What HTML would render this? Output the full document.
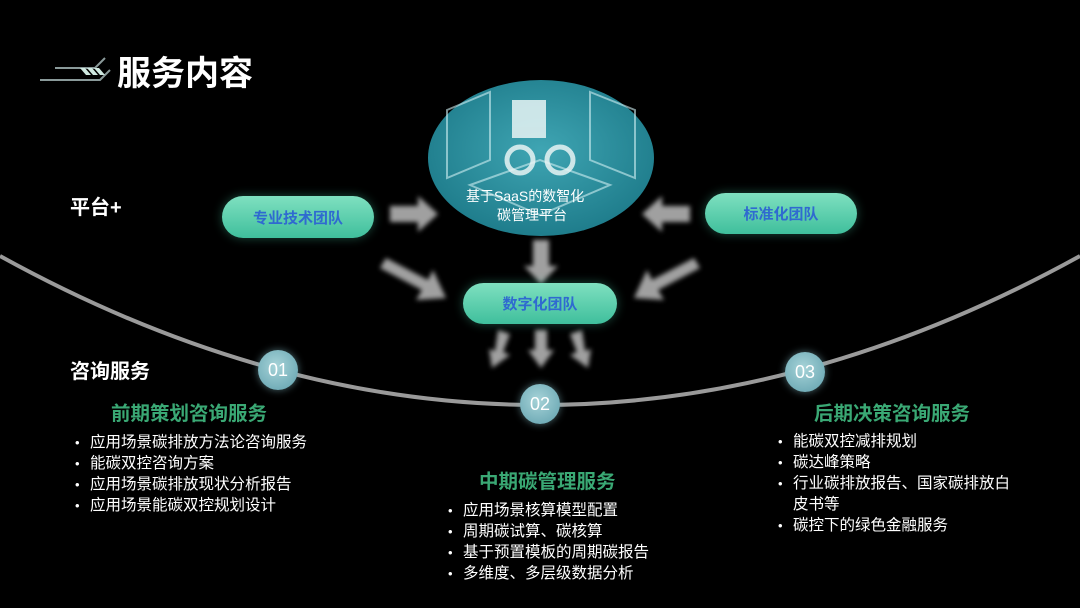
<!DOCTYPE html>
<html><head><meta charset="utf-8"><style>
body{margin:0;background:#000;}
#c{position:relative;width:1080px;height:608px;overflow:hidden;background:#000;font-family:"Liberation Sans","Noto Sans CJK SC",sans-serif;color:#fff;}
.t{position:absolute;white-space:nowrap;}
.pill{position:absolute;border-radius:22px;background:linear-gradient(180deg,#7fe0c0,#3fbf9c);box-shadow:0 0 10px rgba(80,220,180,.35);color:#2f6ad0;font-weight:bold;font-size:15px;display:flex;align-items:center;justify-content:center;}
.num{position:absolute;width:40px;height:40px;border-radius:50%;background:radial-gradient(circle at 45% 40%,#a6d3d8,#5f9fac);box-shadow:0 0 8px rgba(150,210,220,.5);color:#fff;font-size:18px;display:flex;align-items:center;justify-content:center;}
.h{position:absolute;color:#3aa874;font-weight:bold;font-size:19.5px;white-space:nowrap;}
.ul{position:absolute;font-size:15.5px;line-height:21px;}
.ul div{position:relative;padding-left:15px;white-space:nowrap;}
.ul div:before{content:"•";position:absolute;left:0;font-size:13px;}
</style></head><body><div id="c">
<svg width="1080" height="608" style="position:absolute;left:0;top:0">
<defs>
<filter id="b"><feGaussianBlur stdDeviation="2.5"/></filter>
<radialGradient id="e" cx="50%" cy="45%" r="55%"><stop offset="0" stop-color="#3fa5b3"/><stop offset="1" stop-color="#1f7d8c"/></radialGradient>
</defs>
<path d="M40 80 L100 80 L110 70 M55 68 L95 68 L105 58" stroke="#8a9a9a" stroke-width="2" fill="none"/>
<g fill="#cfe8e0"><polygon points="80,68 85,68 91,75 86,75"/><polygon points="87,68 92,68 98,75 93,75"/><polygon points="94,68 99,68 105,75 100,75"/></g>
<path d="M0 256 Q540 554 1080 256" stroke="#9a9a9a" stroke-width="4" fill="none"/>
<ellipse cx="541" cy="158" rx="113" ry="78" fill="url(#e)"/>
<g stroke="#cfeff2" stroke-width="2" fill="none" opacity=".6">
<polygon points="447,110 490,92 490,160 447,178"/>
<polygon points="590,92 635,110 635,178 590,160"/>
<polygon points="470,185 540,160 610,185 540,215"/>
</g>
<g fill="#e8f4f4" opacity=".85"><rect x="512" y="100" width="34" height="38"/><circle cx="520" cy="160" r="13" fill="none" stroke="#e8f4f4" stroke-width="5"/><circle cx="560" cy="160" r="13" fill="none" stroke="#e8f4f4" stroke-width="5"/></g>
<g fill="#a0a0a0" filter="url(#b)">
<polygon points="390,206 418,206 418,196 438,214 418,232 418,222 390,222"/>
<polygon points="690,206 662,206 662,196 642,214 662,232 662,222 690,222"/>
<polygon points="533,240 549,240 549,266 558,266 541,284 524,266 533,266"/>
<polygon points="386,258 428,280 433,270 446,298 416,300 422,290 380,268"/>
<polygon points="694,258 652,280 647,270 634,298 664,300 658,290 700,268"/>
<polygon points="535,330 547,330 547,350 554,350 541,368 528,350 535,350"/>
<polygon points="498,330 510,334 503,352 510,355 492,368 489,349 495,351"/>
<polygon points="582,330 570,334 577,352 570,355 588,368 591,349 585,351"/>
</g>
</svg>
<div class="t" style="left:117px;top:46px;font-size:34px;font-weight:bold;">服务内容</div>
<div class="t" style="left:466px;top:186px;font-size:14px;">基于SaaS的数智化</div>
<div class="t" style="left:497px;top:205px;font-size:14px;">碳管理平台</div>
<div class="pill" style="left:222px;top:196px;width:152px;height:42px;">专业技术团队</div>
<div class="pill" style="left:705px;top:193px;width:152px;height:41px;">标准化团队</div>
<div class="pill" style="left:463px;top:283px;width:154px;height:41px;">数字化团队</div>
<div class="t" style="left:70px;top:191px;font-size:20px;font-weight:bold;">平台+</div>
<div class="t" style="left:70px;top:355px;font-size:20px;font-weight:bold;">咨询服务</div>
<div class="num" style="left:258px;top:350px;">01</div>
<div class="num" style="left:520px;top:384px;">02</div>
<div class="num" style="left:785px;top:352px;">03</div>
<div class="h" style="left:111px;top:397px;">前期策划咨询服务</div>
<div class="h" style="left:479px;top:465px;">中期碳管理服务</div>
<div class="h" style="left:814px;top:397px;">后期决策咨询服务</div>
<div class="ul" style="left:75px;top:432px;"><div>应用场景碳排放方法论咨询服务</div><div>能碳双控咨询方案</div><div>应用场景碳排放现状分析报告</div><div>应用场景能碳双控规划设计</div></div>
<div class="ul" style="left:448px;top:500px;"><div>应用场景核算模型配置</div><div>周期碳试算、碳核算</div><div>基于预置模板的周期碳报告</div><div>多维度、多层级数据分析</div></div>
<div class="ul" style="left:778px;top:431px;"><div>能碳双控减排规划</div><div>碳达峰策略</div><div>行业碳排放报告、国家碳排放白<br>皮书等</div><div>碳控下的绿色金融服务</div></div>
</div></body></html>
